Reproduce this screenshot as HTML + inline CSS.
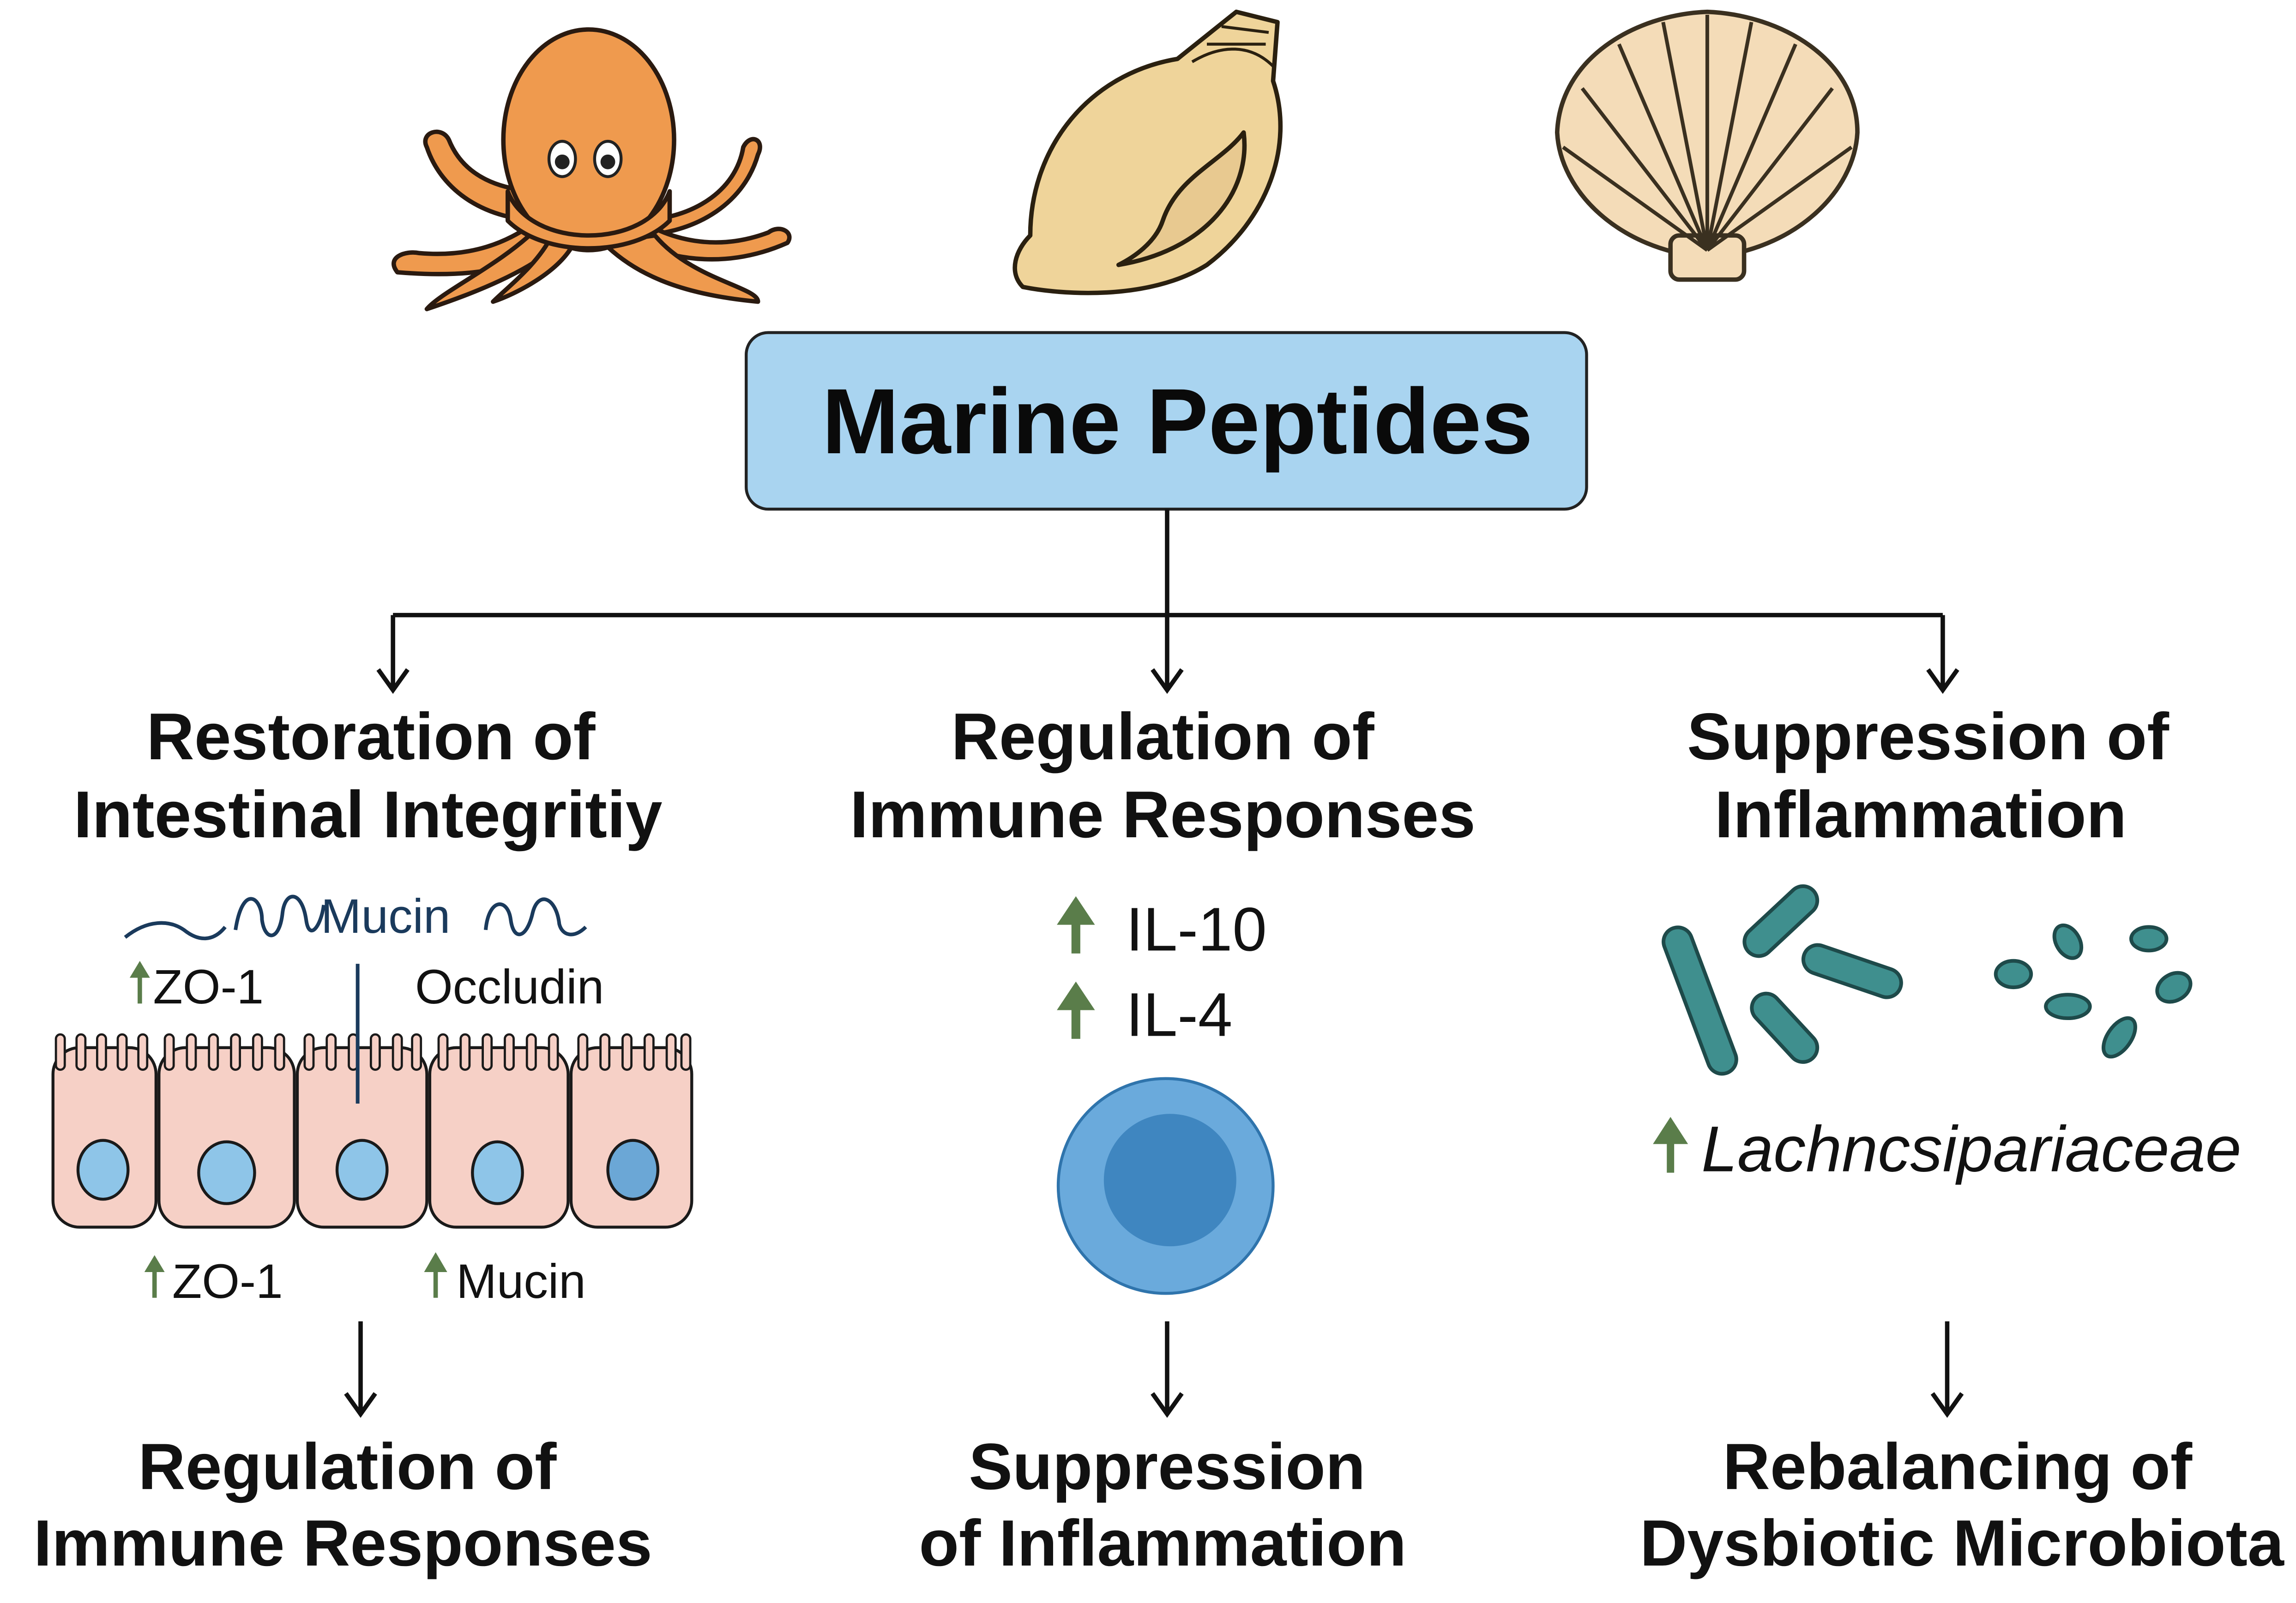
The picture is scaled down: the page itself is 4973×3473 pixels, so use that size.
<!DOCTYPE html>
<html><head><meta charset="utf-8"><style>
html,body{margin:0;padding:0;background:#fff}
svg{display:block}
text{font-family:"Liberation Sans",Arial,sans-serif}
.h{font-weight:bold;font-size:45px;fill:#111;text-anchor:middle}
.b{font-weight:bold;font-size:44.5px;fill:#111;text-anchor:middle}
</style></head><body>
<svg width="4973" height="3473" viewBox="0 0 1560 1089.4" xmlns="http://www.w3.org/2000/svg">
<!-- Octopus -->
<g fill="#ef9a4e" stroke="#2a1a10" stroke-width="3" stroke-linejoin="round">
<path d="M370,150 C330,150 300,130 290,100 C285,90 300,85 305,95 C315,120 340,130 370,130Z"/>
<path d="M430,150 C470,150 500,130 505,100 C510,90 520,95 515,105 C505,140 470,160 430,160Z"/>
<path d="M380,160 C360,180 330,190 270,185 C262,175 275,170 285,172 C320,175 345,165 365,150Z"/>
<path d="M420,160 C450,175 490,185 535,165 C540,158 530,152 522,158 C490,170 460,165 435,150Z"/>
<path d="M385,162 C360,185 320,200 290,210 C300,198 340,180 365,155Z"/>
<path d="M390,165 C380,185 350,200 335,205 C345,195 365,180 375,160Z"/>
<path d="M410,165 C430,185 460,200 515,205 C515,195 470,190 445,160Z"/>
<ellipse cx="400" cy="95" rx="58" ry="75"/>
<path d="M345,130 C360,170 440,170 455,130 L455,150 C430,175 370,175 345,150Z"/>
</g>
<ellipse cx="382" cy="108" rx="9" ry="12" fill="#fff" stroke="#222" stroke-width="2"/><circle cx="382" cy="110" r="5" fill="#222"/>
<ellipse cx="413" cy="108" rx="9" ry="12" fill="#fff" stroke="#222" stroke-width="2"/><circle cx="413" cy="110" r="5" fill="#222"/>
<!-- Conch -->
<g stroke="#2a2010" stroke-width="3" stroke-linejoin="round">
<path d="M800,40 L840,8 L868,15 L865,55 C880,100 860,150 820,180 C780,205 720,200 695,195 C685,185 690,170 700,160 C700,100 740,50 800,40Z" fill="#efd49a"/>
<path d="M760,180 C820,170 850,130 845,90 C830,110 800,120 790,150 C785,165 770,175 760,180Z" fill="#e8c990"/>
<path d="M810,42 C830,30 850,30 865,45 M820,30 L860,30 M830,18 L862,22" fill="none" stroke-width="2"/>
</g>
<!-- Scallop -->
<g stroke="#3a3020" stroke-width="3" stroke-linejoin="round" fill="#f4dcb8">
<path d="M1160,175 C1100,170 1060,130 1058,90 C1060,40 1110,10 1160,8 C1210,10 1262,40 1262,90 C1260,130 1220,170 1160,175Z"/>
<rect x="1135" y="160" width="50" height="30" rx="6"/>
<g fill="none" stroke-width="2.5">
<path d="M1160,170 L1160,10"/><path d="M1160,170 L1130,15"/><path d="M1160,170 L1190,15"/>
<path d="M1160,170 L1100,30"/><path d="M1160,170 L1220,30"/><path d="M1160,170 L1075,60"/>
<path d="M1160,170 L1245,60"/><path d="M1160,170 L1062,100"/><path d="M1160,170 L1258,100"/>
</g></g>
<!-- Title box -->
<rect x="507" y="226" width="571" height="120" rx="15" fill="#a9d4f0" stroke="#222" stroke-width="2"/>
<text x="800" y="308" text-anchor="middle" font-weight="bold" font-size="63" fill="#0a0a0a">Marine Peptides</text>
<!-- connectors -->
<g stroke="#111" stroke-width="3" fill="none" stroke-linejoin="miter">
<path d="M793,346 V418 M267,418 H1320"/>
<path d="M267,418 V468 M257,455 L267,469 L277,455"/>
<path d="M793,418 V468 M783,455 L793,469 L803,455"/>
<path d="M1320,418 V468 M1310,455 L1320,469 L1330,455"/>
<path d="M245,898 V960 M235,947 L245,961 L255,947"/>
<path d="M793,898 V960 M783,947 L793,961 L803,947"/>
<path d="M1323,898 V960 M1313,947 L1323,961 L1333,947"/>
</g>
<!-- headings -->
<text class="h" x="252" y="516">Restoration of</text>
<text class="h" x="250" y="569">Intestinal Integritiy</text>
<text class="h" x="790" y="516">Regulation of</text>
<text class="h" x="790" y="569">Immune Responses</text>
<text class="h" x="1310" y="516">Suppression of</text>
<text class="h" x="1305" y="569">Inflammation</text>
<text class="b" x="236" y="1012">Regulation of</text>
<text class="b" x="233" y="1064">Immune Responses</text>
<text class="b" x="793" y="1012">Suppression</text>
<text class="b" x="790" y="1064">of Inflammation</text>
<text class="b" x="1330" y="1012">Rebalancing of</text>
<text class="b" x="1333" y="1064">Dysbiotic Microbiota</text>
<!-- mucin -->
<g stroke="#1a3a5c" stroke-width="2.5" fill="none">
<path d="M85,637 C100,625 115,625 125,632 C135,640 145,640 153,630"/>
<path d="M160,632 C165,600 178,610 178,625 C180,640 190,640 192,620 C194,605 205,605 208,625 C210,640 218,630 220,615"/>
<path d="M330,632 C332,610 345,610 347,625 C349,640 358,638 362,620 C366,605 378,610 380,628 C382,636 390,638 398,630"/>
</g>
<text x="218" y="634" font-size="33" fill="#1a3a5c">Mucin</text>
<!-- ZO-1 Occludin -->
<g fill="#5a7d4a" stroke="#5a7d4a">
<path d="M95,682 V660" stroke-width="3"/><path d="M89,664 L95,654 L101,664Z"/>
<path d="M105,882 V860" stroke-width="3"/><path d="M99,864 L105,854 L111,864Z"/>
<path d="M296,882 V860" stroke-width="3"/><path d="M289,864 L296,852 L303,864Z"/>
</g>
<text x="104" y="682" font-size="33" fill="#111">ZO-1</text>
<text x="282" y="682" font-size="33" fill="#111">Occludin</text>
<text x="117" y="882" font-size="33" fill="#111">ZO-1</text>
<text x="310" y="882" font-size="33" fill="#111">Mucin</text>
<!-- cells -->
<g fill="#f6d0c6" stroke="#1a1a1a" stroke-width="2">
<rect x="36" y="712" width="70" height="122" rx="18"/>
<rect x="108" y="712" width="92" height="122" rx="18"/>
<rect x="202" y="712" width="88" height="122" rx="18"/>
<rect x="292" y="712" width="94" height="122" rx="18"/>
<rect x="388" y="712" width="82" height="122" rx="18"/>
<g stroke-width="1.5">
<rect x="38" y="703" width="6" height="24" rx="3"/><rect x="52" y="703" width="6" height="24" rx="3"/><rect x="66" y="703" width="6" height="24" rx="3"/><rect x="80" y="703" width="6" height="24" rx="3"/><rect x="94" y="703" width="6" height="24" rx="3"/>
<rect x="112" y="703" width="6" height="24" rx="3"/><rect x="127" y="703" width="6" height="24" rx="3"/><rect x="142" y="703" width="6" height="24" rx="3"/><rect x="157" y="703" width="6" height="24" rx="3"/><rect x="172" y="703" width="6" height="24" rx="3"/><rect x="187" y="703" width="6" height="24" rx="3"/>
<rect x="207" y="703" width="6" height="24" rx="3"/><rect x="222" y="703" width="6" height="24" rx="3"/><rect x="237" y="703" width="6" height="24" rx="3"/><rect x="252" y="703" width="6" height="24" rx="3"/><rect x="267" y="703" width="6" height="24" rx="3"/><rect x="280" y="703" width="6" height="24" rx="3"/>
<rect x="298" y="703" width="6" height="24" rx="3"/><rect x="313" y="703" width="6" height="24" rx="3"/><rect x="328" y="703" width="6" height="24" rx="3"/><rect x="343" y="703" width="6" height="24" rx="3"/><rect x="358" y="703" width="6" height="24" rx="3"/><rect x="373" y="703" width="6" height="24" rx="3"/>
<rect x="393" y="703" width="6" height="24" rx="3"/><rect x="408" y="703" width="6" height="24" rx="3"/><rect x="423" y="703" width="6" height="24" rx="3"/><rect x="438" y="703" width="6" height="24" rx="3"/><rect x="453" y="703" width="6" height="24" rx="3"/><rect x="463" y="703" width="6" height="24" rx="3"/>
</g>
<g fill="#8ec5e8">
<ellipse cx="70" cy="795" rx="17" ry="20"/><ellipse cx="154" cy="797" rx="19" ry="21"/><ellipse cx="246" cy="795" rx="17" ry="20"/><ellipse cx="338" cy="797" rx="17" ry="21"/><ellipse cx="430" cy="795" rx="17" ry="20" fill="#6ba7d6"/>
</g></g>
<path d="M243,655 V750" stroke="#1a3a5c" stroke-width="2.5"/>
<!-- IL -->
<g fill="#5a7d4a" stroke="#5a7d4a">
<path d="M731,648 V622" stroke-width="6"/><path d="M719,628 L731,610 L743,628Z"/>
<path d="M731,706 V680" stroke-width="6"/><path d="M719,686 L731,668 L743,686Z"/>
<path d="M1135,797 V772" stroke-width="5"/><path d="M1124,777 L1135,760 L1146,777Z"/>
</g>
<text x="765" y="646" font-size="42" fill="#111">IL-10</text>
<text x="765" y="704" font-size="42" fill="#111">IL-4</text>
<circle cx="792" cy="806" r="73" fill="#6aaadc" stroke="#2f74ac" stroke-width="2"/>
<circle cx="795" cy="802" r="45" fill="#3f86c0"/>
<text x="1156" y="796" font-size="44" font-style="italic" fill="#111">Lachncsipariaceae</text>
<!-- bacteria -->
<g fill="#3f8f8e" stroke="#1e4a4a" stroke-width="2.5" stroke-linecap="round">
<path d="M1140,640 L1170,720" stroke="#1e4a4a" stroke-width="22"/><path d="M1140,640 L1170,720" stroke="#3f8f8e" stroke-width="17"/>
<path d="M1195,640 L1225,612" stroke="#1e4a4a" stroke-width="22"/><path d="M1195,640 L1225,612" stroke="#3f8f8e" stroke-width="17"/>
<path d="M1235,652 L1282,668" stroke="#1e4a4a" stroke-width="22"/><path d="M1235,652 L1282,668" stroke="#3f8f8e" stroke-width="17"/>
<path d="M1200,685 L1225,712" stroke="#1e4a4a" stroke-width="22"/><path d="M1200,685 L1225,712" stroke="#3f8f8e" stroke-width="17"/>
<ellipse cx="1368" cy="662" rx="12" ry="9"/><ellipse cx="1405" cy="640" rx="8" ry="12" transform="rotate(-30 1405 640)"/>
<ellipse cx="1460" cy="638" rx="12" ry="8"/><ellipse cx="1405" cy="684" rx="15" ry="8"/>
<ellipse cx="1440" cy="705" rx="8" ry="15" transform="rotate(35 1440 705)"/><ellipse cx="1477" cy="671" rx="12" ry="9" transform="rotate(-30 1477 671)"/>
</g>
</svg>
</body></html>
